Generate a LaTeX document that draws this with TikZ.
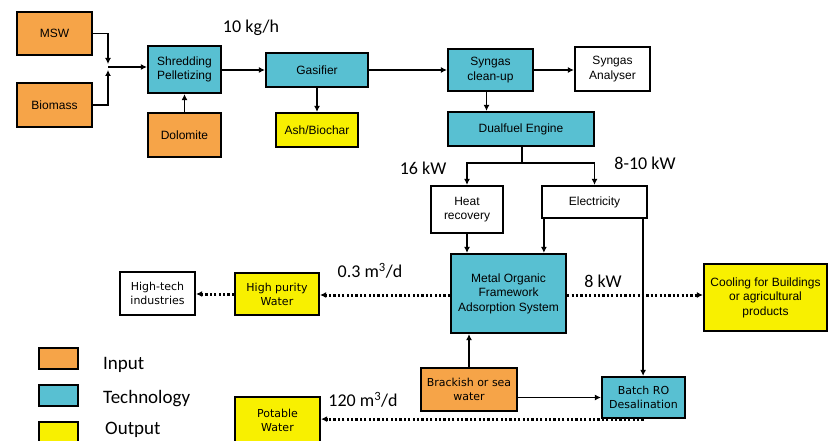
\documentclass[tikz,border=0pt]{standalone}
\usepackage{fontspec}
\setmainfont{Liberation Sans}
\newfontfamily\verdfont{DejaVu Sans}
\newfontfamily\labfont{Carlito}
\usetikzlibrary{arrows.meta}
\definecolor{inputor}{RGB}{246,164,72}
\definecolor{techbl}{RGB}{88,192,210}
\definecolor{outyel}{RGB}{248,240,0}

\begin{document}
\begin{tikzpicture}[
	x=1pt, y=-1pt,
	every node/.style={font=\fontsize{12}{14.5}\selectfont},
	box/.style={draw, line width=2.2pt, align=center, inner sep=1pt},
	sz/.style 2 args={minimum width=#1pt, minimum height=#2pt},
	inp/.style={box, fill=inputor},
	tech/.style={box, fill=techbl},
	outp/.style={box, fill=outyel},
	plain/.style={box, fill=white},
	verd/.style={font=\verdfont\fontsize{11}{14}\selectfont},
	arr/.style={-{Latex[length=6pt, width=6pt]}, line width=1.8pt},
	dotarr/.style={-{Latex[length=6pt, width=6pt]}, line width=3pt,
		dash pattern=on 2.2pt off 2.2pt},
	lab/.style={font=\labfont\fontsize{18}{20}\selectfont},
	keylab/.style={font=\labfont\fontsize{19}{21}\selectfont, anchor=west, inner sep=0pt},
	]
	\useasboundingbox (0,0) rectangle (829,441);

	% Feedstock
	\node[inp, sz={75}{43}] (msw) at (54.5,33.5) {MSW};
	\node[inp, sz={75}{44}] (biomass) at (54.5,105) {Biomass};
	\coordinate (merge) at (108,67);
	\node[tech, sz={73}{47}] (shred) at (184.5,69.5) {Shredding\\Pelletizing};
	\node[inp, sz={73}{44}] (dolomite) at (184.5,135) {Dolomite};

	% Gasification line
	\node[tech, sz={102}{34}] (gasifier) at (317,70) {Gasifier};
	\node[outp, sz={82}{34}] (ash) at (317,130) {Ash/Biochar};
	\node[tech, sz={85}{42}] (clean) at (490.5,70) {Syngas\\clean-up};
	\node[plain, sz={75}{44}] (analyser) at (612.5,69) {Syngas\\Analyser};
	\node[tech, sz={146}{34}] (engine) at (521,129) {Dualfuel Engine};
	\coordinate (split) at (522,163);
	\node[plain, sz={72}{47}] (heat) at (467,209.5) {Heat\\recovery};
	\node[plain, sz={105}{32}] (elec) at (594.5,202) {Electricity};

	% Water production
	\node[tech, sz={115}{79}] (mof) at (508.5,293.5)
	{Metal Organic\\Framework\\Adsorption System};
	\node[outp, verd, sz={84}{42}] (hpw) at (277,294) {High purity\\Water};
	\node[plain, verd, sz={75}{43}] (hitech) at (157.5,293.5) {High-tech\\industries};
	\node[outp, sz={123}{67}] (cooling) at (765.5,297.5)
	{Cooling for Buildings\\or agricultural\\products};
	\node[inp, verd, sz={96}{43}] (brackish) at (469,389.5) {Brackish or sea\\water};
	\node[tech, verd, sz={83}{41}] (batch) at (643.5,397.5) {Batch RO\\Desalination};
	\node[outp, verd, sz={85}{46}] (potable) at (277.5,420) {Potable\\Water};

	% Arrows
	\draw[arr] (msw.east) -| ([yshift=3pt]merge);
	\draw[arr] (biomass.east) -| ([yshift=-3pt]merge);
	\draw[arr] (merge) -- (merge -| shred.west);
	\draw[arr] (dolomite.north) -- (shred.south);
	\draw[arr] (shred.east |- gasifier.west) -- (gasifier.west);
	\draw[arr] (gasifier.south) -- (ash.north);
	\draw[arr] (gasifier.east) -- (clean.west);
	\draw[arr] (clean.east) -- (clean.east -| analyser.west);
	\draw[arr] ([xshift=-4pt]clean.south) -- ([xshift=-4pt]clean.south |- engine.north);
	\draw[line width=1.8pt] (engine.south -| split) -- (split);
	\draw[arr] (split) -| (heat.north);
	\draw[arr] (split) -| (elec.north);
	\draw[arr] (heat.south) -- (heat.south |- mof.north);
	\draw[arr] ([xshift=3pt]elec.south west) -- ([xshift=3pt]elec.south west |- mof.north);
	\draw[arr] ([xshift=-5pt]elec.south east) -- ([xshift=-5pt]elec.south east |- batch.north);
	\draw[arr] (brackish.north) -- (brackish.north |- mof.south);
	\draw[arr] (brackish.east |- batch.west) -- (batch.west);
	\draw[dotarr] ([yshift=-1.5pt]mof.west) -- ([yshift=-1.5pt]mof.west -| hpw.east);
	\draw[dotarr] (hpw.west) -- (hpw.west -| hitech.east);
	\draw[dotarr] ([yshift=-1.5pt]mof.east) -- ([yshift=-1.5pt]mof.east -| cooling.west);
	\draw[dotarr] (batch.south) -- (batch.south -| potable.east);

	% Flow labels
	\node[lab] (rate) at (251,28) {10 kg/h};
	\node[lab] (heatkw) at (423,168) {16 kW};
	\node[lab] (eleckw) at (645,163) {8-10 kW};
	\node[lab] (purerate) at (370,271) {0.3 m\textsuperscript{3}/d};
	\node[lab] (coolkw) at (603,281) {8 kW};
	\node[lab] (potrate) at (363,400) {120 m\textsuperscript{3}/d};

	% Legend
	\node[inp, sz={39}{21}] (keyin) at (58.5,358.5) {};
	\node[tech, sz={39}{21}] (keytech) at (58.5,395.5) {};
	\node[outp, sz={39}{21}] (keyout) at (58.5,432.5) {};
	\node[keylab] (txtin) at (103,365) {Input};
	\node[keylab] (txttech) at (103,399) {Technology};
	\node[keylab] (txtout) at (105,430) {Output};
\end{tikzpicture}
\end{document}
